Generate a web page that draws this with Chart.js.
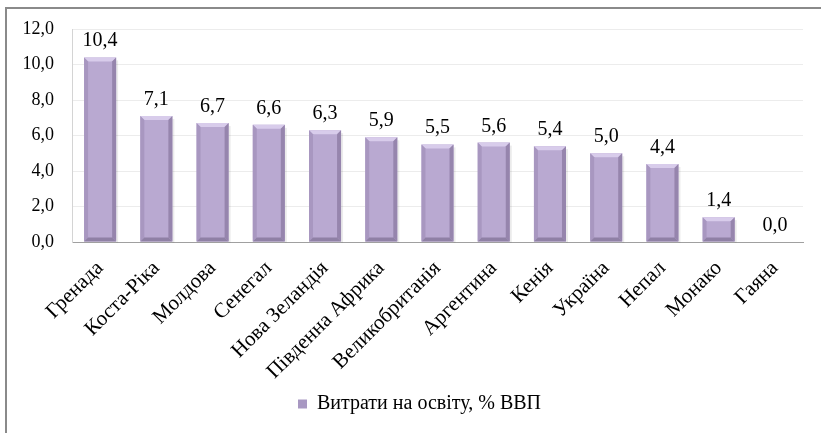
<!DOCTYPE html>
<html>
<head>
<meta charset="utf-8">
<script src="https://cdn.jsdelivr.net/npm/chart.js@4"></script>
<style>
  html, body { margin: 0; padding: 0; background: #fff; overflow: hidden; }
  .frame {
    position: absolute; left: 5px; top: 7px; width: 900px; height: 500px;
    border-top: 2px solid #8a8a8a; border-left: 2px solid #8a8a8a;
  }
  #wrap { position: absolute; left: 0; top: 0; width: 821px; height: 433px; }
</style>
</head>
<body>
<div class="frame"></div>
<div id="wrap"><canvas id="chart"></canvas></div>
<script>
// Витрати на освіту, % ВВП
const countries = ['Гренада', 'Коста-Ріка', 'Молдова', 'Сенегал', 'Нова Зеландія', 'Південна Африка',
  'Великобританія', 'Аргентина', 'Кенія', 'Україна', 'Непал', 'Монако', 'Гаяна'];
const spending = [10.4, 7.1, 6.7, 6.6, 6.3, 5.9, 5.5, 5.6, 5.4, 5.0, 4.4, 1.4, 0.0];
const seriesName = 'Витрати на освіту, % ВВП';

const SERIF = '"Liberation Serif"';
const fmt = v => v.toFixed(1).replace('.', ',');

Chart.defaults.font.family = SERIF;

// об'ємний вигляд стовпчиків
const bevelPlugin = {
  id: 'bevel',
  afterDatasetsDraw(chart) {
    const ctx = chart.ctx;
    chart.getDatasetMeta(0).data.forEach(bar => {
      const l = bar.x - bar.width / 2, r = bar.x + bar.width / 2;
      const t = bar.y, b = bar.base;
      const h = b - t;
      if (h < 1) return;
      const e = Math.min(4, h / 3);
      ctx.save();
      // тінь
      ctx.fillStyle = 'rgba(0,0,0,0.08)';
      ctx.fillRect(r, t + 3, 2, h - 2);
      // верх
      ctx.fillStyle = '#d8cceb';
      ctx.beginPath();
      ctx.moveTo(l, t); ctx.lineTo(r, t); ctx.lineTo(r - e, t + e); ctx.lineTo(l + e, t + e);
      ctx.closePath(); ctx.fill();
      // ліва грань
      ctx.fillStyle = '#a897c0';
      ctx.beginPath();
      ctx.moveTo(l, t); ctx.lineTo(l + e, t + e); ctx.lineTo(l + e, b - e); ctx.lineTo(l, b);
      ctx.closePath(); ctx.fill();
      // права грань
      ctx.fillStyle = '#9685ad';
      ctx.beginPath();
      ctx.moveTo(r, t); ctx.lineTo(r - e, t + e); ctx.lineTo(r - e, b - e); ctx.lineTo(r, b);
      ctx.closePath(); ctx.fill();
      // низ
      ctx.fillStyle = '#8f80a5';
      ctx.beginPath();
      ctx.moveTo(l, b); ctx.lineTo(l + e, b - e); ctx.lineTo(r - e, b - e); ctx.lineTo(r, b);
      ctx.closePath(); ctx.fill();
      ctx.restore();
    });
  }
};

const valueLabels = {
  id: 'valueLabels',
  afterDatasetsDraw(chart) {
    const ctx = chart.ctx;
    ctx.save();
    ctx.font = '20px ' + SERIF;
    ctx.fillStyle = '#000';
    ctx.textAlign = 'center';
    ctx.textBaseline = 'alphabetic';
    chart.getDatasetMeta(0).data.forEach((bar, i) => {
      ctx.fillText(fmt(spending[i]), bar.x, bar.y - 11);
    });
    ctx.restore();
  }
};

// легенда трохи правіше центру, як в оригіналі
const legendShift = {
  id: 'legendShift',
  afterLayout(chart) {
    if (chart.legend) {
      chart.legend.left += 18;
      chart.legend.right += 18;
    }
  }
};

new Chart(document.getElementById('chart'), {
  type: 'bar',
  data: {
    labels: countries,
    datasets: [{
      label: seriesName,
      data: spending,
      backgroundColor: '#b9a9d1',
      borderWidth: 0,
      categoryPercentage: 1,
      barPercentage: 0.57
    }]
  },
  options: {
    responsive: true,
    maintainAspectRatio: false,
    animation: false,
    layout: { padding: { top: 29, right: 18, bottom: 9, left: 0 } },
    plugins: {
      tooltip: { enabled: false },
      legend: {
        position: 'bottom',
        labels: {
          font: { family: SERIF, size: 20 },
          color: '#000',
          boxWidth: 9,
          boxHeight: 9,
          padding: 10,
          generateLabels: chart => [{
            text: seriesName,
            fillStyle: '#a898c2',
            strokeStyle: '#8b7ba3',
            lineWidth: 0,
            datasetIndex: 0
          }]
        }
      }
    },
    scales: {
      x: {
        grid: { display: false, drawTicks: false },
        border: { color: '#a0a0a0', width: 1 },
        ticks: {
          font: { family: SERIF, size: 21 },
          color: '#000',
          minRotation: 45,
          maxRotation: 45,
          autoSkip: false,
          padding: 14
        },
        afterFit: s => { s.height = 142; }
      },
      y: {
        min: 0,
        max: 12,
        grid: { color: '#ececec', drawTicks: false },
        border: { color: '#d4d4d4' },
        ticks: {
          stepSize: 2,
          font: { family: SERIF, size: 18 },
          color: '#000',
          padding: 18,
          callback: v => fmt(v)
        },
        afterFit: s => { s.width = 72; }
      }
    }
  },
  plugins: [bevelPlugin, valueLabels, legendShift]
});
</script>
</body>
</html>
